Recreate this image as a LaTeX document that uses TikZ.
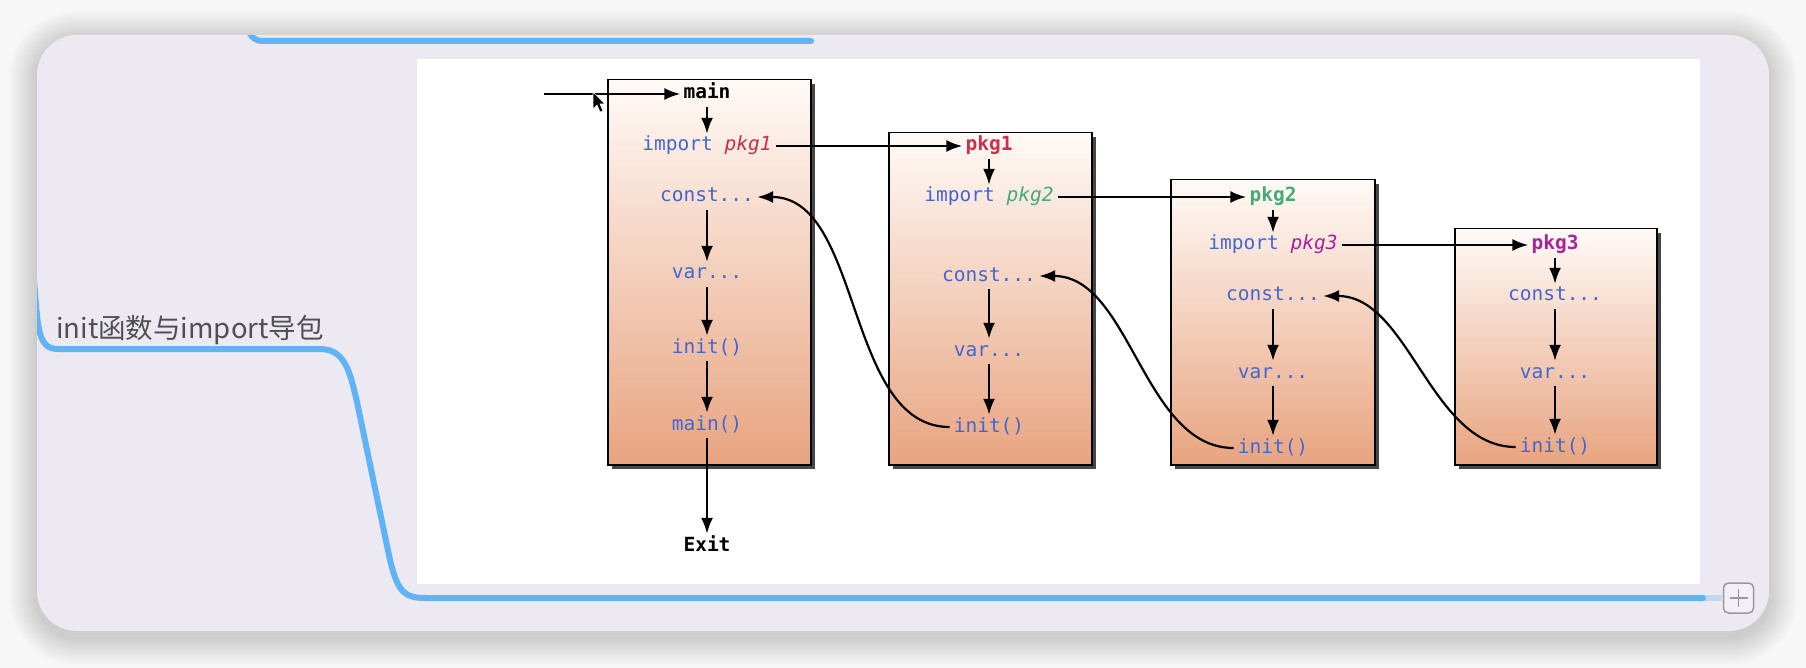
\documentclass[tikz,border=0pt]{standalone}
\usepackage{fontspec}
\setmonofont{DejaVu Sans Mono}
\newfontfamily\cjk{Noto Sans CJK SC}
\usetikzlibrary{arrows.meta,shadows,calc}
\definecolor{codeblue}{HTML}{4466D0}
\definecolor{pkgred}{HTML}{CC3048}
\definecolor{pkggreen}{HTML}{46AA78}
\definecolor{pkgpurple}{HTML}{A8229A}
\definecolor{boxtop}{HTML}{FFFAF7}
\definecolor{boxbot}{HTML}{E8A480}
\definecolor{panel}{HTML}{ECE9F2}
\definecolor{mapblue}{HTML}{5EB4F4}
\definecolor{outerbg}{HTML}{F7F7F7}
\definecolor{labelgray}{HTML}{505050}
\tikzset{
  code/.style={font=\fontsize{19.5}{22}\selectfont\ttfamily, text=codeblue, inner sep=2pt, text height=14pt, text depth=4pt},
  hdr/.style={code, font=\fontsize{19.5}{22}\selectfont\ttfamily\bfseries},
  flow/.style={draw=black, line width=2.2pt, -{Latex[length=16pt,width=12pt]}, shorten <=2pt, shorten >=1pt},
  pkgbox/.style={draw=black, line width=1.5pt, top color=boxtop, bottom color=boxbot, inner sep=0pt, anchor=north west,
    drop shadow={shadow xshift=4pt, shadow yshift=-4pt, fill=black!80, opacity=0.9}},
  mapline/.style={draw=mapblue, line width=6pt, line cap=round, line join=round},
}
\begin{document}
\begin{tikzpicture}[x=1pt,y=-1pt]
\useasboundingbox (0,0) rectangle (1806,668);
\fill[outerbg] (0,0) rectangle (1806,668);
% soft shadow of the panel
\foreach \i [evaluate=\i as \r using 40+\i] in {2,4,...,28}
  \fill[black, opacity=0.01, rounded corners=\r pt] (37-\i,35-\i+4) rectangle (1769+\i,631+\i+6);
% panel
\fill[panel, rounded corners=40pt] (37,35) rectangle (1769,631);
\begin{scope}
  \clip[rounded corners=40pt] (37,35) rectangle (1769,631);
  \draw[mapline] (248,30) .. controls (252,38) and (255,41) .. (264,41) -- (811,41);
  \draw[mapline] (34,280) .. controls (38,330) and (38,349) .. (58,349) -- (320,349)
     .. controls (345,349) and (350,372) .. (357,402) -- (390,560)
     .. controls (398,592) and (404,598) .. (426,598) -- (1703,598);
  \draw[mapblue, opacity=0.3, line width=6pt] (1703,598) -- (1722,598);
\end{scope}
% image area
\fill[white] (417,59) rectangle (1700,584);
% mind-map label
\node[anchor=base west, inner sep=0pt, text=labelgray, font=\cjk\fontsize{27.5}{30}\selectfont] (topic) at (56,338) {init函数与import导包};
% plus button
\node[draw=black!40, fill=panel!70!white, line width=1.5pt, rounded corners=5pt, minimum width=30pt, minimum height=30pt, inner sep=0pt] (plus) at (1738.5,598) {};
\draw[black!40, line width=1.5pt] ($(plus.center)+(-9,0)$) -- ($(plus.center)+(9,0)$);
\draw[black!40, line width=1.5pt] ($(plus.center)+(0,-9)$) -- ($(plus.center)+(0,9)$);

% boxes
\node[pkgbox, minimum width=203pt, minimum height=385pt] (b1) at (607,79) {};
\node[pkgbox, minimum width=203pt, minimum height=332pt] (b2) at (888,132) {};
\node[pkgbox, minimum width=204pt, minimum height=285pt] (b3) at (1170,179) {};
\node[pkgbox, minimum width=202pt, minimum height=236pt] (b4) at (1454,228) {};

% box 1: main
\node[hdr, text=black] (m1) at (707,94) {main};
\node[code] (i1) at (707,146) {import {\itshape\color{pkgred}pkg1}};
\node[code] (c1) at (707,197) {const...};
\node[code] (v1) at (707,274) {var...};
\node[code] (n1) at (707,348) {init()};
\node[code] (mm) at (707,425) {main()};
\node[hdr, text=black] (ex) at (707,546) {Exit};
\coordinate (entry) at (542,94);

% box 2: pkg1
\node[hdr, text=pkgred] (p1) at (989,146) {pkg1};
\node[code] (i2) at (989,197) {import {\itshape\color{pkggreen}pkg2}};
\node[code] (c2) at (989,276) {const...};
\node[code] (v2) at (989,351) {var...};
\node[code] (n2) at (989,427) {init()};

% box 3: pkg2
\node[hdr, text=pkggreen] (p2) at (1273,197) {pkg2};
\node[code] (i3) at (1273,245) {import {\itshape\color{pkgpurple}pkg3}};
\node[code] (c3) at (1273,296) {const...};
\node[code] (v3) at (1273,373) {var...};
\node[code] (n3) at (1273,448) {init()};

% box 4: pkg3
\node[hdr, text=pkgpurple] (p3) at (1555,245) {pkg3};
\node[code] (c4) at (1555,296) {const...};
\node[code] (v4) at (1555,373) {var...};
\node[code] (n4) at (1555,447) {init()};

% vertical flow
\draw[flow] (m1) -- (i1);
\draw[flow] (c1) -- (v1);
\draw[flow] (v1) -- (n1);
\draw[flow] (n1) -- (mm);
\draw[flow] (mm) -- (ex);
\draw[flow] (p1) -- (i2);
\draw[flow] (c2) -- (v2);
\draw[flow] (v2) -- (n2);
\draw[flow] (p2) -- (i3);
\draw[flow] (c3) -- (v3);
\draw[flow] (v3) -- (n3);
\draw[flow] (p3) -- (c4);
\draw[flow] (c4) -- (v4);
\draw[flow] (v4) -- (n4);

% imports
\draw[flow] (entry) -- (m1.west);
\draw[flow] (i1.east) -- (p1.west);
\draw[flow] (i2.east) -- (p2.west);
\draw[flow] (i3.east) -- (p3.west);

% returns
\draw[flow] (n2.west) to[out=180,in=0,looseness=0.9] (c1.east);
\draw[flow] (n3.west) to[out=180,in=0,looseness=0.9] (c2.east);
\draw[flow] (n4.west) to[out=180,in=0,looseness=0.9] (c3.east);

% mouse pointer
\filldraw[fill=black, draw=white, line width=0.6pt] (593,92) -- (593,109) -- (597,105) -- (600,112) -- (603,111) -- (600,104) -- (605,104) -- cycle;
\end{tikzpicture}
\end{document}
